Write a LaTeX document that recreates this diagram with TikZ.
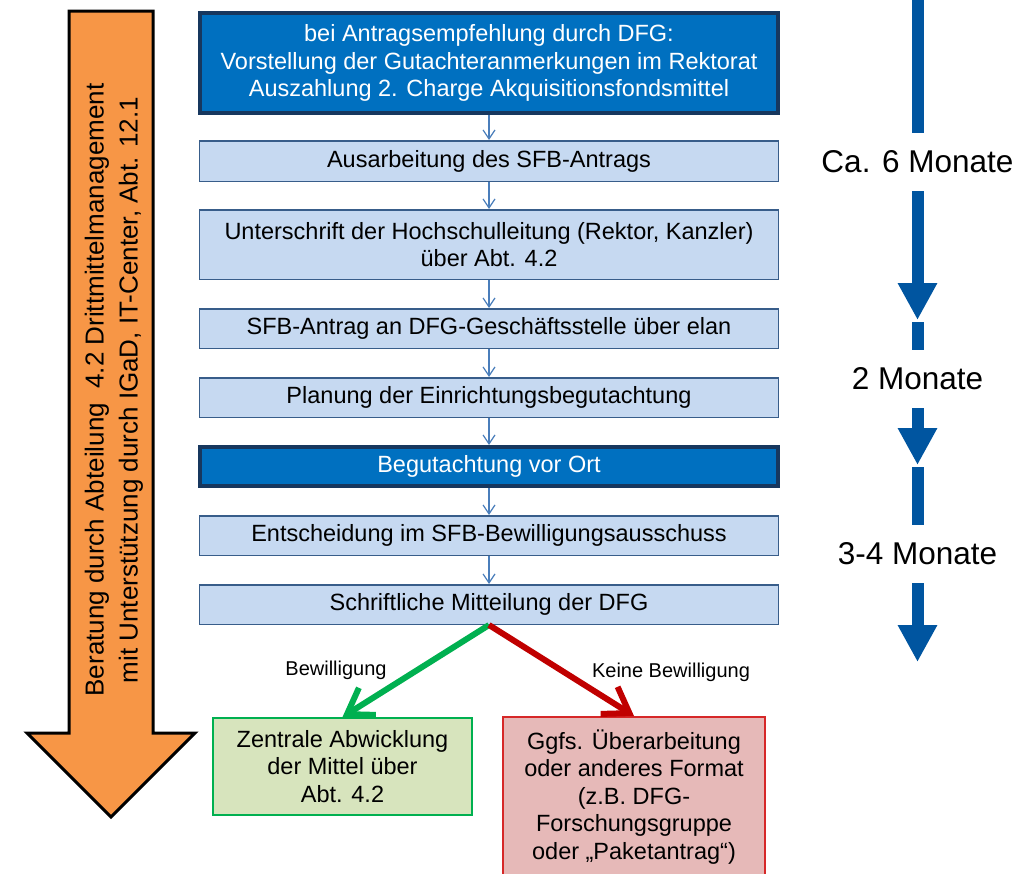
\documentclass[tikz,border=0pt]{standalone}
\usepackage{fontspec}
\setmainfont{Liberation Sans}
\usepackage{tikz}
\usetikzlibrary{arrows.meta, positioning}
\definecolor{stepfill}{RGB}{198,217,241}
\definecolor{stepline}{RGB}{56,93,138}
\definecolor{keyfill}{RGB}{0,112,192}
\definecolor{keyline}{RGB}{23,55,94}
\definecolor{flowline}{RGB}{74,126,187}
\definecolor{timeblue}{RGB}{0,85,160}
\definecolor{sideorange}{RGB}{247,150,70}
\definecolor{okgreen}{RGB}{0,176,80}
\definecolor{okfill}{RGB}{215,228,189}
\definecolor{nored}{RGB}{192,0,0}
\definecolor{noline}{RGB}{214,40,40}
\definecolor{nofill}{RGB}{230,185,184}
\newcommand{\stepfont}{\fontsize{23.5pt}{27.5pt}\selectfont}
\newcommand{\sidefont}{\fontsize{26pt}{34pt}\selectfont}
\newcommand{\timefont}{\fontsize{31.5pt}{36pt}\selectfont}
\newcommand{\decfont}{\fontsize{20pt}{24pt}\selectfont}

\begin{document}
\begin{tikzpicture}[
    x=1pt, y=-1pt,
    stepbox/.style={draw=stepline, line width=1.5pt, fill=stepfill, minimum width=579pt, align=center, font=\stepfont, inner sep=2pt},
    keybox/.style={draw=keyline, line width=4pt, fill=keyfill, text=white, minimum width=578pt, align=center, font=\stepfont, inner sep=2pt},
    flow/.style={-{Straight Barb[length=9pt, width=12pt]}, draw=flowline, line width=1.2pt},
    timelabel/.style={font=\timefont, inner sep=0pt, minimum height=58pt},
    timebar/.style={draw=timeblue, line width=12pt},
    timearrow/.style={timebar, -{Triangle[length=37pt, width=37pt]}},
    decision/.style={-{Straight Barb[length=24pt, width=32pt]}, line width=6pt},
    endbox/.style={line width=2pt, align=center, font=\stepfont, inner sep=8pt}
]
    \useasboundingbox (0,0) rectangle (1033,873);

    % Beratung (side arrow)
    \draw[line width=3pt, fill=sideorange, line join=miter] (69,11) -- (153,11) -- (153,733) -- (195,733) -- (111,817) -- (27,733) -- (69,733) -- cycle;
    \node[rotate=90, align=center, font=\sidefont] (advice) at (114,390) {Beratung durch Abteilung\ \ 4.2 Drittmittelmanagement\\mit Unterstützung durch IGaD, IT-Center, Abt. 12.1};

    % Steps
    \node[keybox, minimum height=100pt] (top) at (489,63) {\fontsize{23.5pt}{27pt}\selectfont bei Antragsempfehlung durch DFG:\\Vorstellung der Gutachteranmerkungen im Rektorat\\Auszahlung 2. Charge Akquisitionsfondsmittel};
    \node[stepbox, minimum height=40.5pt] (draft) at (489,161) {Ausarbeitung des SFB-Antrags};
    \node[stepbox, minimum height=69.5pt] (sign) at (489,244.5) {Unterschrift der Hochschulleitung (Rektor, Kanzler)\\über Abt. 4.2};
    \node[stepbox, minimum height=39.5pt] (submit) at (489,328.5) {SFB-Antrag an DFG-Geschäftsstelle über elan};
    \node[stepbox, minimum height=39.5pt] (plan) at (489,397.5) {Planung der Einrichtungsbegutachtung};
    \node[keybox, minimum height=39pt] (review) at (489,466.5) {Begutachtung vor Ort};
    \node[stepbox, minimum height=39.5pt] (decide) at (489,535.5) {Entscheidung im SFB-Bewilligungsausschuss};
    \node[stepbox, minimum height=39.5pt] (notice) at (489,604.5) {Schriftliche Mitteilung der DFG};

    % Connections
    \draw[flow] (top) -- (draft);
    \draw[flow] (draft) -- (sign);
    \draw[flow] (sign) -- (submit);
    \draw[flow] (submit) -- (plan);
    \draw[flow] (plan) -- (review);
    \draw[flow] (review) -- (decide);
    \draw[flow] (decide) -- (notice);

    % Outcomes
    \node[endbox, draw=okgreen, fill=okfill, minimum width=259pt, minimum height=97pt] (ok) at (342.5,766.5) {Zentrale Abwicklung\\der Mittel über\\Abt. 4.2};
    \node[endbox, draw=noline, fill=nofill, minimum width=262pt, minimum height=182pt] (no) at (634,808) {Ggfs. Überarbeitung\\oder anderes Format\\(z.B. DFG-\\Forschungsgruppe\\oder „Paketantrag“)\\\mbox{}};
    \draw[decision, draw=okgreen] (notice.south) -- (ok.north);
    \draw[decision, draw=nored] (notice.south) -- (no.north);
    \node[font=\decfont] (yes) at (336,670) {Bewilligung};
    \node[font=\decfont] (nay) at (671,672) {Keine Bewilligung};

    % Time scale
    \coordinate (ts1) at (917.5,0);
    \node[timelabel] (t6) at (917.5,162) {Ca. 6 Monate};
    \coordinate (te1) at (917.5,320);
    \coordinate (ts2) at (917.5,322);
    \node[timelabel] (t2) at (917.5,379) {2 Monate};
    \coordinate (te2) at (917.5,465);
    \coordinate (ts3) at (917.5,467);
    \node[timelabel] (t34) at (917.5,554) {3-4 Monate};
    \coordinate (te3) at (917.5,662);
    \draw[timebar] (ts1) -- (t6);
    \draw[timearrow] (t6) -- (te1);
    \draw[timebar] (ts2) -- (t2);
    \draw[timearrow] (t2) -- (te2);
    \draw[timebar] (ts3) -- (t34);
    \draw[timearrow] (t34) -- (te3);
\end{tikzpicture}
\end{document}
